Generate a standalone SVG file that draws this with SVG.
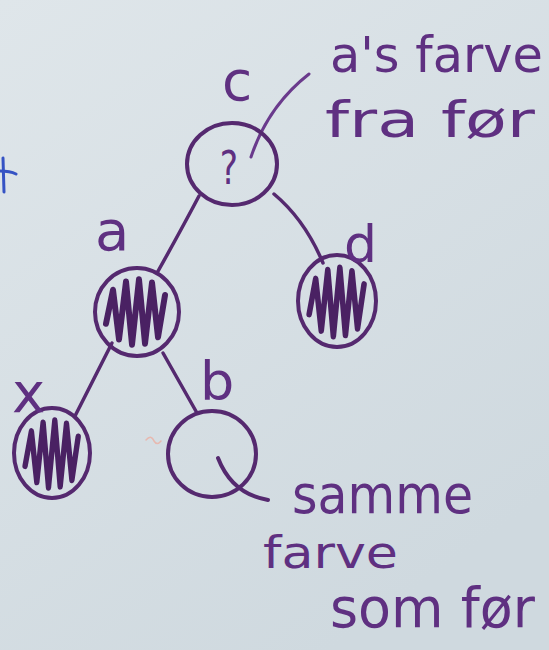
<svg xmlns="http://www.w3.org/2000/svg" width="549" height="650" viewBox="0 0 549 650">
  <defs>
    <linearGradient id="board" x1="0" y1="0" x2="0.6" y2="1">
      <stop offset="0" stop-color="#dfe6ea"/>
      <stop offset="1" stop-color="#cfd9df"/>
    </linearGradient>
    <!-- zigzag fill for black nodes, drawn for a unit node of radius 42 -->
    <path id="scribble" d="M-31,11 L-24,-21 L-18,26 L-11,-29 L-5,31 L2,-31 L8,30 L15,-28 L21,24 L28,-16"/>
  </defs>
  <style>
    .ring { fill: none; stroke: #55296f; stroke-width: 4; stroke-linecap: round; }
    .fill { fill: none; stroke: #4a2163; stroke-width: 6; stroke-linejoin: round; stroke-linecap: round; }
    .edge { fill: none; stroke: #55296f; stroke-width: 3.5; stroke-linecap: round; }
    .note { fill: none; stroke: #6a3a8c; stroke-width: 3; stroke-linecap: round; }
    .ink { font-family: "DejaVu Sans", "Noto Sans", sans-serif; fill: #5f3081; }
  </style>

  <rect width="549" height="650" fill="url(#board)"/>

  <!-- stray marks on the board -->
  <g id="marks" fill="none" stroke-linecap="round">
    <path d="M3,158 L4,192" stroke="#3553c4" stroke-width="3"/>
    <path d="M0,171 Q10,171 16,174" stroke="#3553c4" stroke-width="3"/>
    <path d="M146,440 Q151,434 154,441 Q157,446 161,441" stroke="#e7b9b0" stroke-width="1.5"/>
  </g>

  <!-- connectors -->
  <g id="edges">
    <path class="edge" d="M199,196 Q180,232 157,273"/>
    <path class="edge" d="M274,194 Q305,220 323,263"/>
    <path class="edge" d="M112,343 L75,416"/>
    <path class="edge" d="M163,353 L197,413"/>
    <path class="note" d="M309,74 Q268,106 251,157"/>
  </g>

  <!-- node c (colour unknown) -->
  <g id="node-c">
    <ellipse class="ring" cx="232" cy="164" rx="45" ry="41"/>
    <text class="ink" transform="translate(229,184) scale(0.75,1)" font-size="46" text-anchor="middle">?</text>
    <text class="ink" x="222" y="100" font-size="55">c</text>
  </g>

  <!-- node a (black) -->
  <g id="node-a">
    <ellipse class="ring" cx="137" cy="312" rx="42" ry="44"/>
    <use href="#scribble" class="fill" transform="translate(137,312) scale(1,1.05)"/>
    <text class="ink" x="95" y="250" font-size="56">a</text>
  </g>

  <!-- node d (black) -->
  <g id="node-d">
    <ellipse class="ring" cx="337" cy="301" rx="39" ry="46"/>
    <use href="#scribble" class="fill" transform="translate(338,302) scale(0.93,1.1)"/>
    <text class="ink" x="344" y="262" font-size="52">d</text>
  </g>

  <!-- node x (black) -->
  <g id="node-x">
    <ellipse class="ring" cx="52" cy="453" rx="38" ry="45"/>
    <use href="#scribble" class="fill" transform="translate(53,454) scale(0.9,1.08)"/>
    <text class="ink" x="12" y="412" font-size="56">x</text>
  </g>

  <!-- node b (red) -->
  <g id="node-b">
    <ellipse class="ring" cx="212" cy="454" rx="44" ry="43"/>
    <path class="ring" d="M218,458 Q232,494 268,500"/>
    <text class="ink" x="200" y="400" font-size="54">b</text>
  </g>

  <!-- notes -->
  <g id="note-top">
    <text class="ink" x="330" y="72" font-size="50" textLength="213" lengthAdjust="spacingAndGlyphs">a's farve</text>
    <text class="ink" x="325" y="137" font-size="50" textLength="210" lengthAdjust="spacingAndGlyphs">fra før</text>
  </g>
  <g id="note-bottom">
    <text class="ink" x="292" y="513" font-size="54" textLength="181" lengthAdjust="spacingAndGlyphs">samme</text>
    <text class="ink" x="263" y="568" font-size="44" textLength="135" lengthAdjust="spacingAndGlyphs">farve</text>
    <text class="ink" x="330" y="627" font-size="55" textLength="205" lengthAdjust="spacingAndGlyphs">som før</text>
  </g>
</svg>
